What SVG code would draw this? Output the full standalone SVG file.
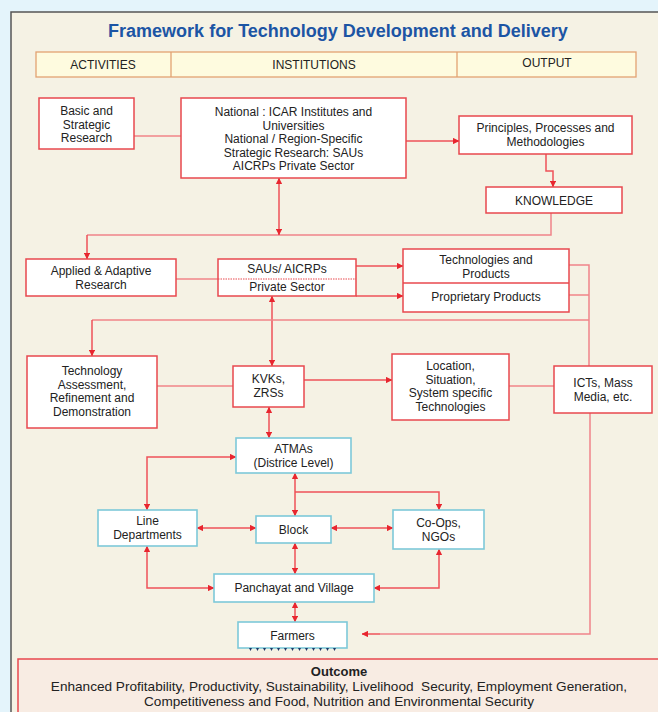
<svg xmlns="http://www.w3.org/2000/svg" width="658" height="712" viewBox="0 0 658 712">
<defs>
<marker id="ah" viewBox="0 0 10 10" refX="9.5" refY="5" markerWidth="6.5" markerHeight="6.5" markerUnits="userSpaceOnUse" orient="auto-start-reverse">
<path d="M0,0 L10,5 L0,10 z" fill="#e8262f"/>
</marker>
<style>
.t{font-family:"Liberation Sans",Arial,sans-serif;font-size:12px;fill:#222;text-anchor:middle}
.o{font-size:13.6px}
.rb{fill:#fff;stroke:#e8484e;stroke-width:1.5}
.bb{fill:#fff;stroke:#7dc9d9;stroke-width:1.6}
.c{fill:none;stroke:#ee5258;stroke-width:1.5}
.p{fill:none;stroke:#f08489;stroke-width:1.5}
.a{marker-end:url(#ah)}
.d{marker-start:url(#ah);marker-end:url(#ah)}
</style>
</defs>
<rect x="0" y="0" width="658" height="712" fill="#e4f4fb"/>
<rect x="11" y="12" width="660" height="710" fill="#f5f2e4" stroke="#555" stroke-width="1.5"/>
<text x="338" y="37" style="font-family:'Liberation Sans',Arial,sans-serif;font-size:18px;font-weight:bold;fill:#1c55a4;text-anchor:middle">Framework for Technology Development and Delivery</text>
<g id="header">
<rect x="36" y="52" width="600" height="25" fill="#fefbdf" stroke="#e2a272" stroke-width="1.3"/>
<line x1="171" y1="52" x2="171" y2="77" stroke="#e2a272" stroke-width="1.3"/>
<line x1="457" y1="52" x2="457" y2="77" stroke="#e2a272" stroke-width="1.3"/>
<text class="t" x="103" y="69">ACTIVITIES</text>
<text class="t" x="314" y="69">INSTITUTIONS</text>
<text class="t" x="547" y="67">OUTPUT</text>
</g>
<g id="connectors">
<path class="p" d="M134,136 H181"/>
<path class="c a" d="M406,141 H459"/>
<path class="c a" d="M546,154 V171 H553 V187"/>
<path class="p" d="M551,213 V235 H87"/>
<path class="c a" d="M87,235 V259"/>
<path class="c d" d="M279,178 V235"/>
<path class="p" d="M176,279 H218"/>
<path class="c a" d="M356,266 H403"/>
<path class="c a" d="M356,296 H403"/>
<path class="c d" d="M272,296 V366"/>
<path class="p" d="M569,265 H589 V366"/>
<path class="p" d="M569,295 H589"/>
<path class="p" d="M589,320 H92"/>
<path class="c a" d="M92,320 V356"/>
<path class="p" d="M157,386 H233"/>
<path class="c a" d="M304,380 H392"/>
<path class="p" d="M509,386 H554"/>
<path class="p" d="M590,413 V634 H380"/>
<path class="c a" d="M380,634 H362"/>
<path class="c d" d="M269,407 V438"/>
<path class="c d" d="M236,457 H147 V510"/>
<path class="c d" d="M295,473 V516"/>
<path class="c a" d="M295,492 H439 V510"/>
<path class="c d" d="M197,528 H256"/>
<path class="c d" d="M331,528 H393"/>
<path class="c d" d="M295,543 V574"/>
<path class="c d" d="M147,546 V588 H214"/>
<path class="c d" d="M439,549 V588 H374"/>
<path class="c d" d="M295,602 V622"/>
</g>
<g id="basic">
<rect class="rb" x="39" y="98" width="95" height="51"/>
<text class="t" x="86.5" y="115">Basic and</text>
<text class="t" x="86.5" y="128.5">Strategic</text>
<text class="t" x="86.5" y="142">Research</text>
</g>
<g id="national">
<rect class="rb" x="181" y="98" width="225" height="80"/>
<text class="t" x="293.5" y="116">National : ICAR Institutes and</text>
<text class="t" x="293.5" y="129.5">Universities</text>
<text class="t" x="293.5" y="143">National / Region-Specific</text>
<text class="t" x="293.5" y="156.5">Strategic Research: SAUs</text>
<text class="t" x="293.5" y="170">AICRPs Private Sector</text>
</g>
<g id="principles">
<rect class="rb" x="459" y="116" width="173" height="38"/>
<text class="t" x="545.5" y="132">Principles, Processes and</text>
<text class="t" x="545.5" y="145.5">Methodologies</text>
</g>
<g id="knowledge">
<rect class="rb" x="486" y="187" width="136" height="26"/>
<text class="t" x="554" y="205">KNOWLEDGE</text>
</g>
<g id="applied">
<rect class="rb" x="26" y="259" width="150" height="37"/>
<text class="t" x="101" y="275">Applied &amp; Adaptive</text>
<text class="t" x="101" y="288.5">Research</text>
</g>
<g id="saus">
<rect class="rb" x="218" y="259" width="138" height="37"/>
<line x1="218" y1="279" x2="356" y2="279" stroke="#e8484e" stroke-width="1" stroke-dasharray="1.5,1"/>
<text class="t" x="287" y="273">SAUs/ AICRPs</text>
<text class="t" x="287" y="291">Private Sector</text>
</g>
<g id="technologies">
<rect class="rb" x="403" y="249" width="166" height="63"/>
<line x1="403" y1="283" x2="569" y2="283" stroke="#e8484e" stroke-width="1.5"/>
<text class="t" x="486" y="264">Technologies and</text>
<text class="t" x="486" y="277.5">Products</text>
<text class="t" x="486" y="301">Proprietary Products</text>
</g>
<g id="assessment">
<rect class="rb" x="27" y="356" width="130" height="72"/>
<text class="t" x="92" y="375">Technology</text>
<text class="t" x="92" y="388.5">Assessment,</text>
<text class="t" x="92" y="402">Refinement and</text>
<text class="t" x="92" y="415.5">Demonstration</text>
</g>
<g id="kvks">
<rect class="rb" x="233" y="366" width="71" height="41"/>
<text class="t" x="268.5" y="383">KVKs,</text>
<text class="t" x="268.5" y="396.5">ZRSs</text>
</g>
<g id="location">
<rect class="rb" x="392" y="354" width="117" height="66"/>
<text class="t" x="450.5" y="370">Location,</text>
<text class="t" x="450.5" y="383.5">Situation,</text>
<text class="t" x="450.5" y="397">System specific</text>
<text class="t" x="450.5" y="410.5">Technologies</text>
</g>
<g id="icts">
<rect class="rb" x="554" y="366" width="98" height="47"/>
<text class="t" x="603" y="387">ICTs, Mass</text>
<text class="t" x="603" y="401">Media, etc.</text>
</g>
<g id="atmas">
<rect class="bb" x="236" y="438" width="115" height="35"/>
<text class="t" x="293.5" y="453">ATMAs</text>
<text class="t" x="293.5" y="466.5">(Districe Level)</text>
</g>
<g id="line-departments">
<rect class="bb" x="98" y="510" width="99" height="36"/>
<text class="t" x="147.5" y="525">Line</text>
<text class="t" x="147.5" y="538.5">Departments</text>
</g>
<g id="block">
<rect class="bb" x="256" y="516" width="75" height="27"/>
<text class="t" x="293.5" y="534">Block</text>
</g>
<g id="coops">
<rect class="bb" x="393" y="510" width="91" height="39"/>
<text class="t" x="438.5" y="527">Co-Ops,</text>
<text class="t" x="438.5" y="540.5">NGOs</text>
</g>
<g id="panchayat">
<rect class="bb" x="214" y="574" width="160" height="28"/>
<text class="t" x="294" y="592">Panchayat and Village</text>
</g>
<g id="farmers">
<rect class="bb" x="238" y="622" width="109" height="26"/>
<text class="t" x="292.5" y="640">Farmers</text>
<path fill="#1e3a6a" d="M249,648h3l-1.5,3z M256,648h3l-1.5,3z M263,648h3l-1.5,3z M270,648h3l-1.5,3z M277,648h3l-1.5,3z M284,648h3l-1.5,3z M291,648h3l-1.5,3z M298,648h3l-1.5,3z M305,648h3l-1.5,3z M312,648h3l-1.5,3z M319,648h3l-1.5,3z M326,648h3l-1.5,3z M333,648h3l-1.5,3z"/>
</g>
<g id="outcome">
<rect x="18" y="659" width="660" height="70" fill="#f8ece3" stroke="#e8484e" stroke-width="1.5"/>
<text class="t" x="339" y="676" style="font-weight:bold;font-size:13px">Outcome</text>
<text class="t o" x="339" y="691" style="white-space:pre">Enhanced Profitability, Productivity, Sustainability, Livelihood  Security, Employment Generation,</text>
<text class="t o" x="339" y="706">Competitiveness and Food, Nutrition and Environmental Security</text>
</g>
</svg>
